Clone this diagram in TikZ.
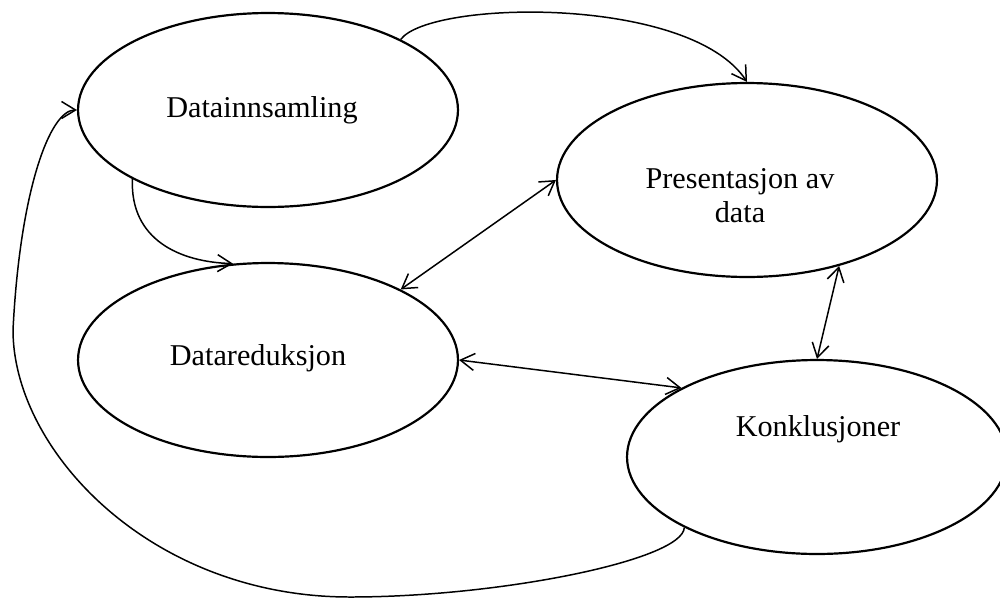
\documentclass[tikz,border=0pt]{standalone}
\usepackage{fontspec}
\setmainfont{Liberation Serif}
\usepackage{tikz}
\usetikzlibrary{shapes.geometric, arrows.meta, positioning}

\begin{document}
\begin{tikzpicture}[x=0.02cm, y=-0.02cm,
  font=\fontsize{17.2}{19.4}\selectfont,
  e/.style={ellipse, draw, line width=1.25pt, minimum width=7.6cm,
            minimum height=3.88cm, inner sep=0pt},
  t/.style={inner sep=0pt, align=center},
  a/.style={-{Straight Barb[length=2.8mm, width=3.4mm]}, line width=0.85pt},
  aa/.style={{Straight Barb[length=2.8mm, width=3.4mm]}-{Straight Barb[length=2.8mm, width=3.4mm]}, line width=0.85pt}]
  \useasboundingbox (0,0) rectangle (1000,599);
  \node[e] (inns) at (268,110) {};
  \node[e] (pres) at (747,180) {};
  \node[e] (red) at (268,360) {};
  \node[e] (konk) at (817,457) {};
  \node[t] (inns-t) at (262,110) {Datainnsamling};
  \node[t] (pres-t) at (740,196) {Presentasjon av\\data};
  \node[t] (red-t) at (258,358) {Datareduksjon};
  \node[t] (konk-t) at (818,429) {Konklusjoner};
  \draw[a] (inns.28) .. controls (430,0) and (690,-5) .. (pres.north);
  \draw[a] (inns.207) .. controls (130,240) and (180,262) .. (red.110);
  \draw[aa] (red.28) -- (pres.west);
  \draw[aa] (red.east) -- (konk.153);
  \draw[aa] (pres.317) -- (konk.north);
  \draw[a] (konk.208) .. controls (683,560) and (500,597) .. (350,597)
    .. controls (150,597) and (13,450) .. (13,330)
    .. controls (20,190) and (50,110) .. (inns.west);
\end{tikzpicture}
\end{document}
